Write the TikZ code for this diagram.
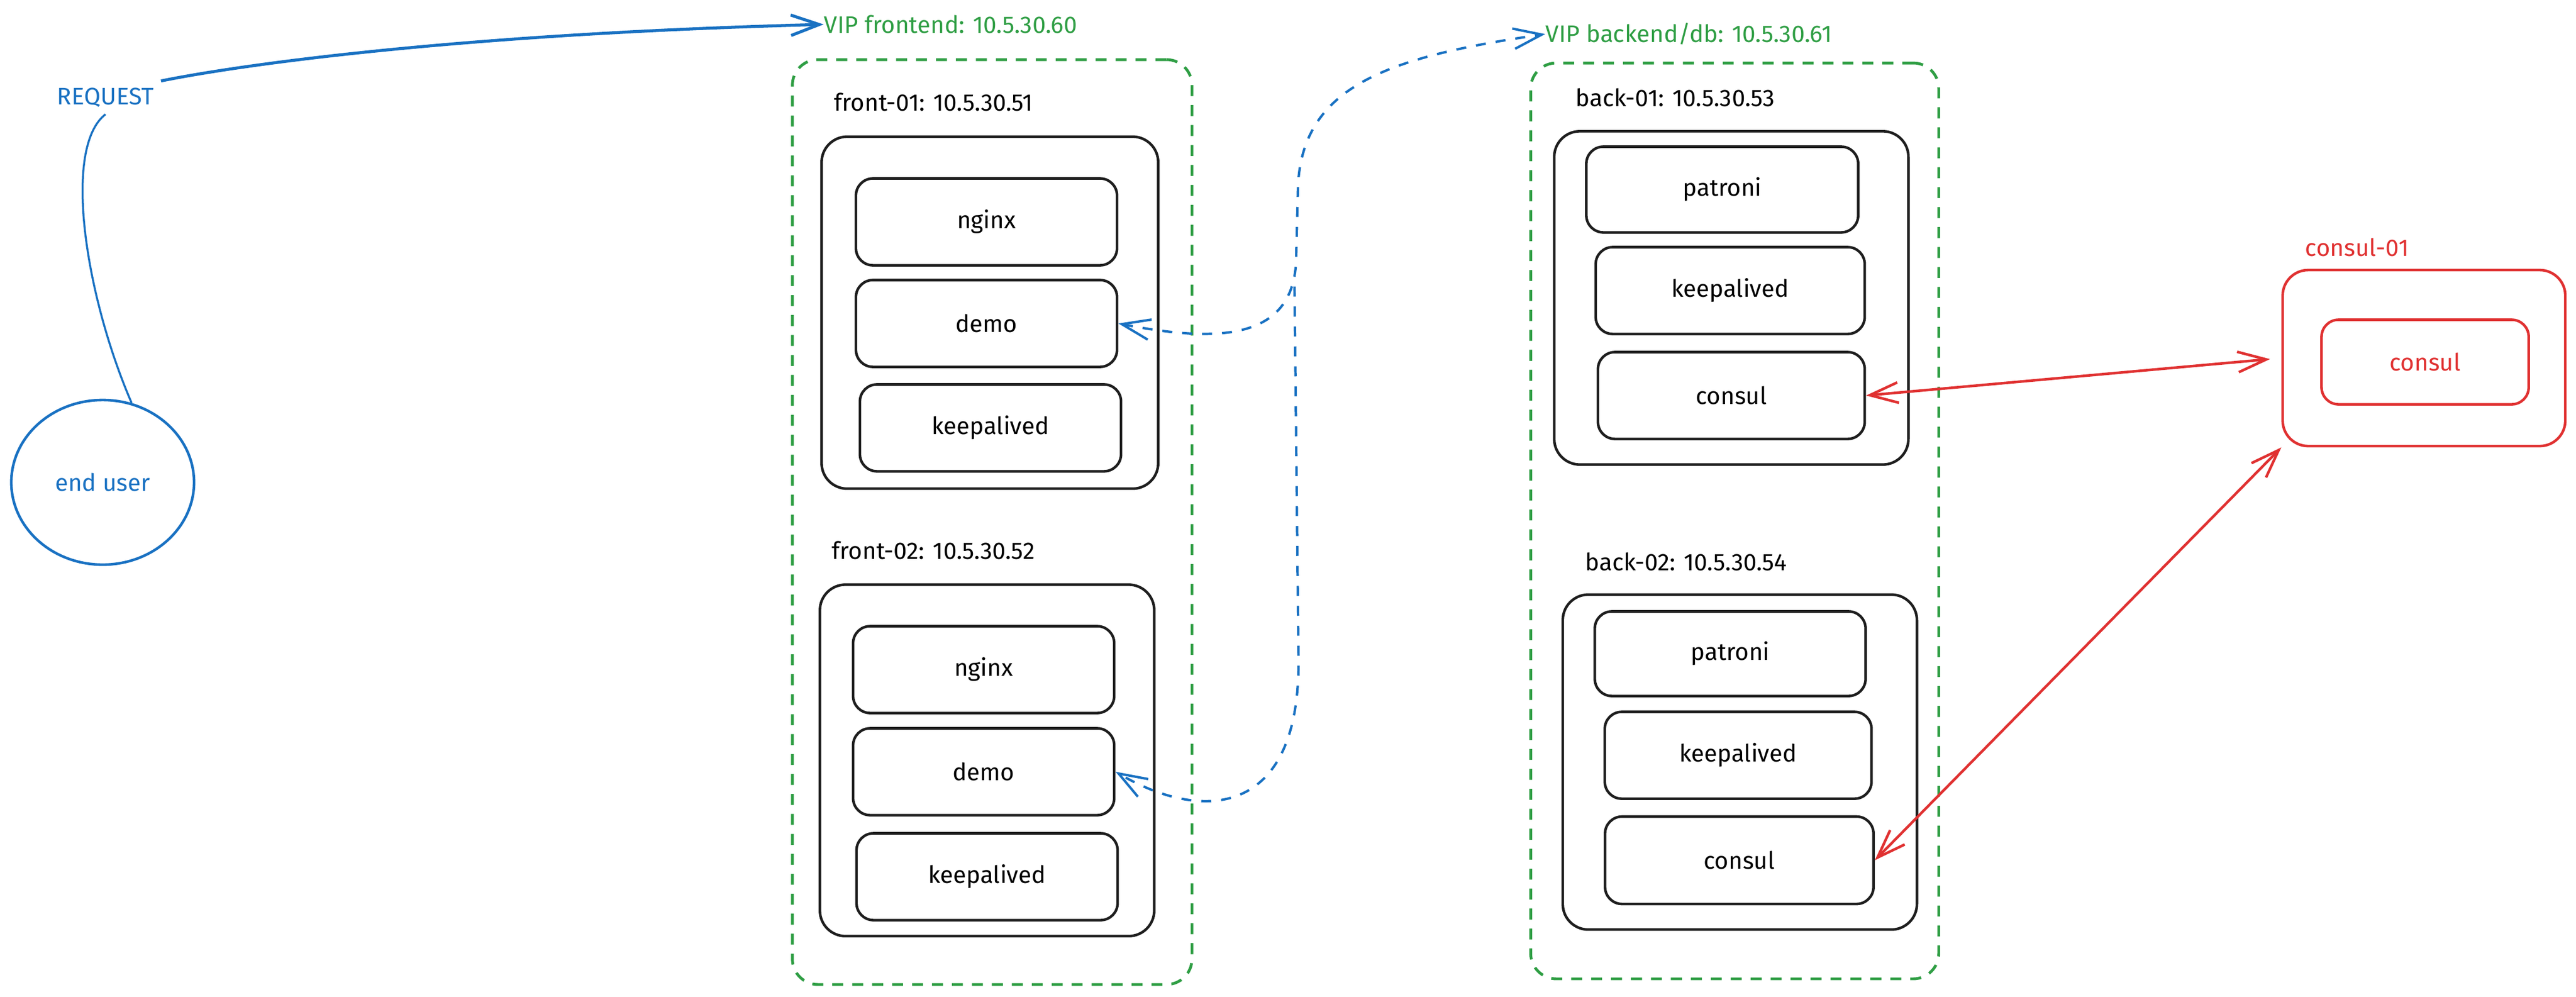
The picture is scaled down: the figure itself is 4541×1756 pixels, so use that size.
\documentclass[tikz,border=0pt]{standalone}
\usepackage{fontspec}
\setmainfont{Fira Sans}
\usetikzlibrary{arrows.meta,shapes.geometric}
\definecolor{ink}{HTML}{1E1E1E}
\definecolor{vgreen}{HTML}{2F9E44}
\definecolor{vblue}{HTML}{1971C2}
\definecolor{vred}{HTML}{E03131}

\begin{document}
\begin{tikzpicture}[x=0.01cm,y=-0.01cm,>={Straight Barb[length=5mm,width=3.6mm]},
    font=\fontsize{12}{14}\selectfont,
    grp/.style={draw=vgreen,line width=1.4pt,dash pattern=on 5.5pt off 4.5pt,rounded corners=4.5mm,inner sep=0pt},
    host/.style={draw=ink,line width=1.3pt,rounded corners=4.5mm,inner sep=0pt},
    svc/.style={draw=ink,line width=1.3pt,rounded corners=3mm,inner sep=0pt,minimum width=4.6cm,minimum height=1.53cm},
    lbl/.style={anchor=west,inner sep=0pt},
    dashline/.style={draw=vblue,line width=1.2pt,dash pattern=on 5pt off 5pt},
    redline/.style={draw=vred,line width=1.3pt}]
    \useasboundingbox (0,0) rectangle (4541,1756);

    \node[ellipse,draw=vblue,line width=1.3pt,text=vblue,minimum width=3.22cm,minimum height=2.9cm] (enduser) at (181,850) {end user};
    \node[text=vblue] (req) at (186,172) {REQUEST};

    \node[lbl,text=vgreen] (vipfront) at (1452,43) {VIP frontend: 10.5.30.60};
    \node[lbl,text=vgreen] (vipback) at (2724,60) {VIP backend/db: 10.5.30.61};

    \node[grp,minimum width=7.04cm,minimum height=16.29cm] (frontgrp) at (1749,920) {};
    \node[lbl] (front1lbl) at (1470,180) {front-01: 10.5.30.51};
    \node[host,minimum width=5.93cm,minimum height=6.2cm] (front1) at (1745,551) {};
    \node[svc] (nginx1) at (1739,391) {nginx};
    \node[svc] (demo1) at (1739,570) {demo};
    \node[svc] (keep1) at (1746,754) {keepalived};
    \node[lbl] (front2lbl) at (1466,970) {front-02: 10.5.30.52};
    \node[host,minimum width=5.89cm,minimum height=6.19cm] (front2) at (1740,1340) {};
    \node[svc] (nginx2) at (1734,1180) {nginx};
    \node[svc] (demo2) at (1734,1360) {demo};
    \node[svc] (keep2) at (1740,1545) {keepalived};

    \node[grp,minimum width=7.19cm,minimum height=16.13cm] (backgrp) at (3058,918) {};
    \node[lbl] (back1lbl) at (2777,172) {back-01: 10.5.30.53};
    \node[host,minimum width=6.24cm,minimum height=5.87cm] (back1) at (3052,525) {};
    \node[svc,minimum width=4.79cm,minimum height=1.51cm] (patroni1) at (3036,334) {patroni};
    \node[svc,minimum width=4.74cm] (keep3) at (3050,512) {keepalived};
    \node[svc,minimum width=4.7cm] (consul1) at (3052,697) {consul};
    \node[lbl] (back2lbl) at (2794,990) {back-02: 10.5.30.54};
    \node[host,minimum width=6.24cm,minimum height=5.9cm] (back2) at (3067,1343) {};
    \node[svc,minimum width=4.77cm,minimum height=1.49cm] (patroni2) at (3050,1152) {patroni};
    \node[svc,minimum width=4.7cm] (keep4) at (3064,1331) {keepalived};
    \node[svc,minimum width=4.73cm,minimum height=1.54cm] (consul2) at (3066,1516) {consul};

    \node[lbl,text=vred] (consul01lbl) at (4063,436) {consul-01};
    \node[host,draw=vred,minimum width=4.98cm,minimum height=3.1cm] (consul01) at (4273,631) {};
    \node[svc,draw=vred,text=vred,minimum width=3.65cm,minimum height=1.49cm] (consulsvc) at (4275,638) {consul};

    \coordinate (junc) at (2282,505);

    \draw[vblue,line width=1pt] (enduser.70) .. controls (150,520) and (110,260) .. (req.south);
    \draw[vblue,line width=1.5pt,->] (req.north east) .. controls (420,115) and (800,60) .. (vipfront.west);
    \draw[dashline,<->] (demo1.east) .. controls (2150,605) and (2285,600) .. (2285,450) -- (2288,330) .. controls (2295,150) and (2450,100) .. (vipback.west);
    \draw[dashline,->] (junc) -- (2289,1166) .. controls (2290,1440) and (2120,1450) .. (demo2.east);
    \draw[redline,<->,shorten >=2mm] (consul1.east) -- (consul01.west);
    \draw[redline,<->] (consul2.east) -- (consul01.south west);
\end{tikzpicture}
\end{document}
